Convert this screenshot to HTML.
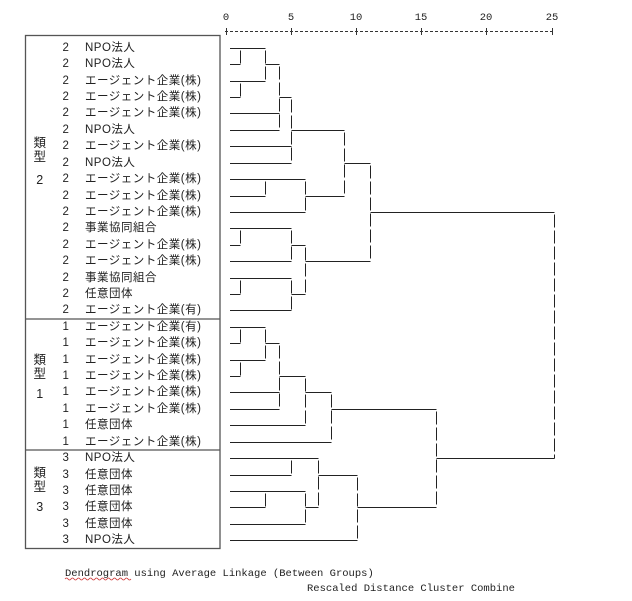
<!DOCTYPE html>
<html><head><meta charset="utf-8"><style>
html,body{margin:0;padding:0;background:#fff;width:632px;height:601px;overflow:hidden}
svg{display:block}
.t{font-family:"Liberation Sans","Noto Sans CJK JP",sans-serif;font-size:11.5px;fill:#222;letter-spacing:0.5px}
.m{font-family:"Liberation Mono",monospace;font-size:10.5px;fill:#222}
</style></head><body>
<svg width="632" height="601" viewBox="0 0 632 601" xmlns="http://www.w3.org/2000/svg">
<g class="m" text-anchor="middle">
<text x="226" y="20">0</text><text x="291" y="20">5</text><text x="356" y="20">10</text><text x="421" y="20">15</text><text x="486" y="20">20</text><text x="552" y="20">25</text>
</g>
<g stroke="#333" stroke-width="1">
<line x1="225" y1="31.5" x2="553" y2="31.5" stroke-dasharray="3,2"/>
<line x1="226.5" y1="28" x2="226.5" y2="35"/><line x1="291.5" y1="28" x2="291.5" y2="35"/><line x1="356.5" y1="28" x2="356.5" y2="35"/><line x1="421.5" y1="28" x2="421.5" y2="35"/><line x1="486.5" y1="28" x2="486.5" y2="35"/><line x1="552.5" y1="28" x2="552.5" y2="35"/>
</g>
<g stroke="#555" stroke-width="1.3" fill="none">
<rect x="25.5" y="35.5" width="194.5" height="513"/>
<line x1="25.5" y1="319" x2="220" y2="319"/>
<line x1="25.5" y1="450" x2="220" y2="450"/>
</g>
<g class="t" text-anchor="middle" style="font-size:12.5px">
<text x="40" y="147">類</text><text x="40" y="161">型</text><text x="40" y="184">2</text>
<text x="40" y="364">類</text><text x="40" y="378">型</text><text x="40" y="398">1</text>
<text x="40" y="477">類</text><text x="40" y="491">型</text><text x="40" y="511">3</text>
</g>
<g class="t" dominant-baseline="central">
<g text-anchor="middle">
<text x="66" y="48">2</text><text x="66" y="64">2</text><text x="66" y="81">2</text><text x="66" y="97">2</text><text x="66" y="113">2</text><text x="66" y="130">2</text><text x="66" y="146">2</text><text x="66" y="163">2</text><text x="66" y="179">2</text><text x="66" y="196">2</text><text x="66" y="212">2</text><text x="66" y="228">2</text><text x="66" y="245">2</text><text x="66" y="261">2</text><text x="66" y="278">2</text><text x="66" y="294">2</text><text x="66" y="310">2</text>
<text x="66" y="327">1</text><text x="66" y="343">1</text><text x="66" y="360">1</text><text x="66" y="376">1</text><text x="66" y="392">1</text><text x="66" y="409">1</text><text x="66" y="425">1</text><text x="66" y="442">1</text>
<text x="66" y="458">3</text><text x="66" y="475">3</text><text x="66" y="491">3</text><text x="66" y="507">3</text><text x="66" y="524">3</text><text x="66" y="540">3</text>
</g>
<text x="85" y="48">NPO法人</text>
<text x="85" y="64">NPO法人</text>
<text x="85" y="81">エージェント企業(株)</text>
<text x="85" y="97">エージェント企業(株)</text>
<text x="85" y="113">エージェント企業(株)</text>
<text x="85" y="130">NPO法人</text>
<text x="85" y="146">エージェント企業(株)</text>
<text x="85" y="163">NPO法人</text>
<text x="85" y="179">エージェント企業(株)</text>
<text x="85" y="196">エージェント企業(株)</text>
<text x="85" y="212">エージェント企業(株)</text>
<text x="85" y="228">事業協同組合</text>
<text x="85" y="245">エージェント企業(株)</text>
<text x="85" y="261">エージェント企業(株)</text>
<text x="85" y="278">事業協同組合</text>
<text x="85" y="294">任意団体</text>
<text x="85" y="310">エージェント企業(有)</text>
<text x="85" y="327">エージェント企業(有)</text>
<text x="85" y="343">エージェント企業(株)</text>
<text x="85" y="360">エージェント企業(株)</text>
<text x="85" y="376">エージェント企業(株)</text>
<text x="85" y="392">エージェント企業(株)</text>
<text x="85" y="409">エージェント企業(株)</text>
<text x="85" y="425">任意団体</text>
<text x="85" y="442">エージェント企業(株)</text>
<text x="85" y="458">NPO法人</text>
<text x="85" y="475">任意団体</text>
<text x="85" y="491">任意団体</text>
<text x="85" y="507">任意団体</text>
<text x="85" y="524">任意団体</text>
<text x="85" y="540">NPO法人</text>
</g>
<g stroke="#222" stroke-width="1">
<line x1="230" y1="48.5" x2="265.5" y2="48.5"/>
<line x1="230" y1="64.5" x2="240.5" y2="64.5"/>
<line x1="230" y1="81.5" x2="265.5" y2="81.5"/>
<line x1="230" y1="97.5" x2="240.5" y2="97.5"/>
<line x1="265.5" y1="64.5" x2="279.5" y2="64.5"/>
<line x1="230" y1="113.5" x2="279.5" y2="113.5"/>
<line x1="230" y1="130.5" x2="279.5" y2="130.5"/>
<line x1="279.5" y1="97.5" x2="291.5" y2="97.5"/>
<line x1="230" y1="146.5" x2="291.5" y2="146.5"/>
<line x1="230" y1="163.5" x2="291.5" y2="163.5"/>
<line x1="291.5" y1="130.5" x2="344.5" y2="130.5"/>
<line x1="230" y1="179.5" x2="305.5" y2="179.5"/>
<line x1="230" y1="196.5" x2="265.5" y2="196.5"/>
<line x1="230" y1="212.5" x2="305.5" y2="212.5"/>
<line x1="305.5" y1="196.5" x2="344.5" y2="196.5"/>
<line x1="344.5" y1="163.5" x2="370.5" y2="163.5"/>
<line x1="230" y1="228.5" x2="291.5" y2="228.5"/>
<line x1="230" y1="245.5" x2="240.5" y2="245.5"/>
<line x1="230" y1="261.5" x2="291.5" y2="261.5"/>
<line x1="291.5" y1="245.5" x2="305.5" y2="245.5"/>
<line x1="230" y1="278.5" x2="291.5" y2="278.5"/>
<line x1="230" y1="294.5" x2="240.5" y2="294.5"/>
<line x1="230" y1="310.5" x2="291.5" y2="310.5"/>
<line x1="291.5" y1="294.5" x2="305.5" y2="294.5"/>
<line x1="305.5" y1="261.5" x2="370.5" y2="261.5"/>
<line x1="370.5" y1="212.5" x2="554.5" y2="212.5"/>
<line x1="230" y1="327.5" x2="265.5" y2="327.5"/>
<line x1="230" y1="343.5" x2="240.5" y2="343.5"/>
<line x1="230" y1="360.5" x2="265.5" y2="360.5"/>
<line x1="230" y1="376.5" x2="240.5" y2="376.5"/>
<line x1="265.5" y1="343.5" x2="279.5" y2="343.5"/>
<line x1="230" y1="392.5" x2="279.5" y2="392.5"/>
<line x1="230" y1="409.5" x2="279.5" y2="409.5"/>
<line x1="279.5" y1="376.5" x2="305.5" y2="376.5"/>
<line x1="230" y1="425.5" x2="305.5" y2="425.5"/>
<line x1="305.5" y1="392.5" x2="331.5" y2="392.5"/>
<line x1="230" y1="442.5" x2="331.5" y2="442.5"/>
<line x1="331.5" y1="409.5" x2="436.5" y2="409.5"/>
<line x1="230" y1="458.5" x2="318.5" y2="458.5"/>
<line x1="230" y1="475.5" x2="291.5" y2="475.5"/>
<line x1="230" y1="491.5" x2="305.5" y2="491.5"/>
<line x1="230" y1="507.5" x2="265.5" y2="507.5"/>
<line x1="230" y1="524.5" x2="305.5" y2="524.5"/>
<line x1="305.5" y1="507.5" x2="318.5" y2="507.5"/>
<line x1="318.5" y1="475.5" x2="357.5" y2="475.5"/>
<line x1="230" y1="540.5" x2="357.5" y2="540.5"/>
<line x1="357.5" y1="507.5" x2="436.5" y2="507.5"/>
<line x1="436.5" y1="458.5" x2="554.5" y2="458.5"/>
</g>
<g stroke="#222" stroke-width="1" stroke-dasharray="13,3" stroke-dashoffset="-2">
<line x1="240.5" y1="48.5" x2="240.5" y2="64.5"/>
<line x1="240.5" y1="81.5" x2="240.5" y2="97.5"/>
<line x1="265.5" y1="48.5" x2="265.5" y2="81.5"/>
<line x1="279.5" y1="64.5" x2="279.5" y2="130.5"/>
<line x1="291.5" y1="97.5" x2="291.5" y2="163.5"/>
<line x1="265.5" y1="179.5" x2="265.5" y2="196.5"/>
<line x1="305.5" y1="179.5" x2="305.5" y2="212.5"/>
<line x1="344.5" y1="130.5" x2="344.5" y2="196.5"/>
<line x1="240.5" y1="228.5" x2="240.5" y2="245.5"/>
<line x1="291.5" y1="228.5" x2="291.5" y2="261.5"/>
<line x1="240.5" y1="278.5" x2="240.5" y2="294.5"/>
<line x1="291.5" y1="278.5" x2="291.5" y2="310.5"/>
<line x1="305.5" y1="245.5" x2="305.5" y2="294.5"/>
<line x1="370.5" y1="163.5" x2="370.5" y2="261.5"/>
<line x1="240.5" y1="327.5" x2="240.5" y2="343.5"/>
<line x1="240.5" y1="360.5" x2="240.5" y2="376.5"/>
<line x1="265.5" y1="327.5" x2="265.5" y2="360.5"/>
<line x1="279.5" y1="343.5" x2="279.5" y2="409.5"/>
<line x1="305.5" y1="376.5" x2="305.5" y2="425.5"/>
<line x1="331.5" y1="392.5" x2="331.5" y2="442.5"/>
<line x1="291.5" y1="458.5" x2="291.5" y2="475.5"/>
<line x1="265.5" y1="491.5" x2="265.5" y2="507.5"/>
<line x1="305.5" y1="491.5" x2="305.5" y2="524.5"/>
<line x1="318.5" y1="458.5" x2="318.5" y2="507.5"/>
<line x1="357.5" y1="475.5" x2="357.5" y2="540.5"/>
<line x1="436.5" y1="409.5" x2="436.5" y2="507.5"/>
<line x1="554.5" y1="212.5" x2="554.5" y2="458.5"/>
</g>
<text class="m" x="65" y="576">Dendrogram using Average Linkage (Between Groups)</text>
<path d="M65 579 q1.5 -2 3 0 t3 0 t3 0 t3 0 t3 0 t3 0 t3 0 t3 0 t3 0 t3 0 t3 0 t3 0 t3 0 t3 0 t3 0 t3 0 t3 0 t3 0 t3 0 t3 0 t3 0 t3 0" stroke="#c33" stroke-width="0.8" fill="none"/>
<text class="m" x="307" y="591">Rescaled Distance Cluster Combine</text>
</svg>
</body></html>
